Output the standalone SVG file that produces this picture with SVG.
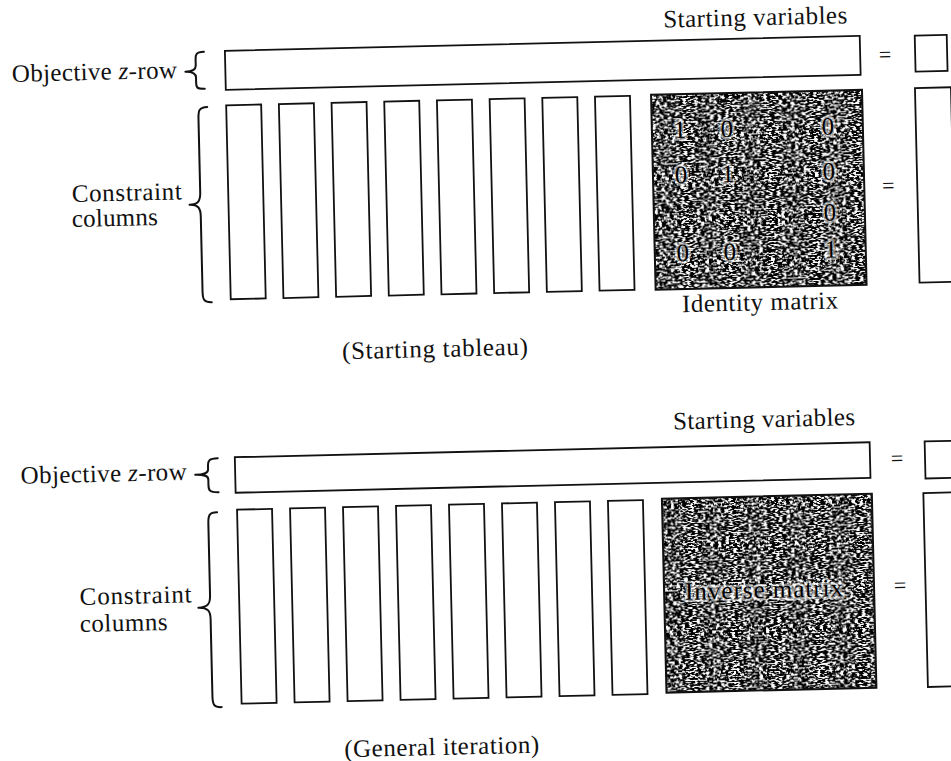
<svg xmlns="http://www.w3.org/2000/svg" width="951" height="761" viewBox="0 0 951 761">
<style>
.box{fill:#fff;stroke:#111;stroke-width:1.8}
.frame{fill:none;stroke:#111;stroke-width:2}
.br{fill:none;stroke:#111;stroke-width:2;stroke-linecap:round;stroke-linejoin:round}
.t{font-family:"Liberation Serif","Times New Roman",serif;fill:#111;font-size:25px}
.eq{font-family:"Liberation Serif","Times New Roman",serif;fill:#111;font-size:22px;text-anchor:middle}
.d{font-family:"Liberation Serif","Times New Roman",serif;fill:#000;font-size:25px;text-anchor:middle;stroke:#fff;stroke-width:5;stroke-opacity:0.55;paint-order:stroke;stroke-linejoin:round}
.m{text-anchor:middle}
</style>
<defs>
<filter id="grain" x="0" y="0" width="1" height="1" color-interpolation-filters="sRGB">
<feTurbulence type="fractalNoise" baseFrequency="0.26 0.6" numOctaves="2" seed="4" result="t"/>
<feColorMatrix in="t" type="matrix" values="1 0 0 0 0  1 0 0 0 0  1 0 0 0 0  0 0 0 0 1" result="g"/>
<feComponentTransfer in="g" result="b">
<feFuncR type="linear" slope="9" intercept="-4.3"/>
<feFuncG type="linear" slope="9" intercept="-4.3"/>
<feFuncB type="linear" slope="9" intercept="-4.3"/>
</feComponentTransfer>
<feComposite in="b" in2="SourceGraphic" operator="in"/>
</filter>
<rect id="col" width="35" height="194" class="box"/>
</defs>
<rect width="951" height="761" fill="#fff"/>

<g id="top" transform="rotate(-1.35 475 180)">
  <g id="top-header"><text class="t m" x="759" y="32" textLength="184">Starting variables</text></g>
  <g id="top-zrow-label"><text class="t" x="14.5" y="71" textLength="165">Objective <tspan font-style="italic">z</tspan>-row</text></g>
  <g id="top-zrow"><rect class="box" x="228" y="45" width="635" height="39"/></g>
  <g id="top-zrow-eq"><text class="eq" x="888" y="71.5">=</text></g>
  <g id="top-zrow-rhs"><rect class="box" x="918" y="46" width="32" height="36"/></g>
  <g id="top-constraint-label">
    <text class="t" x="71.5" y="192.5" textLength="110">Constraint</text>
    <text class="t" x="71" y="217.5" textLength="86">columns</text>
  </g>
  <g id="top-columns">
    <use href="#col" x="228" y="99.5"/>
    <use href="#col" x="280.7" y="99.5"/>
    <use href="#col" x="333.4" y="99.5"/>
    <use href="#col" x="386.1" y="99.5"/>
    <use href="#col" x="438.8" y="99.5"/>
    <use href="#col" x="491.5" y="99.5"/>
    <use href="#col" x="544.2" y="99.5"/>
    <use href="#col" x="596.9" y="99.5"/>
  </g>
  <g id="top-identity">
    <rect x="653" y="99" width="211" height="195" fill="#000" filter="url(#grain)"/>
    <rect class="frame" x="653" y="99" width="211" height="195"/>
    <text class="d" x="681" y="143">1</text>
    <text class="d" x="728" y="143">0</text>
    <text class="d" x="829" y="143">0</text>
    <text class="d" x="681" y="188">0</text>
    <text class="d" x="728" y="188">1</text>
    <text class="d" x="829" y="188">0</text>
    <text class="d" x="829" y="229">0</text>
    <text class="d" x="681" y="266">0</text>
    <text class="d" x="728" y="266">0</text>
    <text class="d" x="829" y="266">1</text>
  </g>
  <g id="top-identity-label"><text class="t m" x="757" y="317" textLength="156">Identity matrix</text></g>
  <g id="top-eq"><text class="eq" x="888" y="202.5">=</text></g>
  <g id="top-rhs"><rect class="box" x="917" y="98.5" width="36" height="194.5"/></g>
  <g id="top-caption"><text class="t m" x="431" y="356" textLength="186">(Starting tableau)</text></g>
</g>

<g id="bottom" transform="rotate(-1.35 480 590)">
  <g id="bot-header"><text class="t m" x="768" y="434" textLength="182">Starting variables</text></g>
  <g id="bot-zrow-label"><text class="t" x="23.5" y="473" textLength="166">Objective <tspan font-style="italic">z</tspan>-row</text></g>
  <g id="bot-zrow"><rect class="box" x="238" y="451.5" width="635" height="35.5"/></g>
  <g id="bot-zrow-eq"><text class="eq" x="900" y="475.5">=</text></g>
  <g id="bot-zrow-rhs"><rect class="box" x="928" y="452" width="35" height="37"/></g>
  <g id="bot-constraint-label">
    <text class="t" x="79.6" y="595.6" textLength="112">Constraint</text>
    <text class="t" x="79" y="622.6" textLength="88">columns</text>
  </g>
  <g id="bot-columns">
    <use href="#col" x="239" y="504"/>
    <use href="#col" x="292" y="504"/>
    <use href="#col" x="345" y="504"/>
    <use href="#col" x="398" y="504"/>
    <use href="#col" x="451" y="504"/>
    <use href="#col" x="504" y="504"/>
    <use href="#col" x="557" y="504"/>
    <use href="#col" x="610" y="504"/>
  </g>
  <g id="bot-inverse">
    <rect x="664" y="503" width="210" height="194" fill="#000" filter="url(#grain)"/>
    <rect class="frame" x="664" y="503" width="210" height="194"/>
    <text class="d" x="764" y="604.7" textLength="158">Inverse matrix</text>
  </g>
  <g id="bot-eq"><text class="eq" x="900" y="602.5">=</text></g>
  <g id="bot-rhs"><rect class="box" x="925.5" y="503.5" width="37" height="194"/></g>
  <g id="bot-caption"><text class="t m" x="438" y="754" textLength="195">(General iteration)</text></g>
</g>

<g id="braces">
  <g transform="rotate(-1.35 475 180)">
    <path class="br" d="M207 45.5 C199 45.5 198.5 48 198.5 53 L198.5 59 C198.5 63 196 65 188 65 C196 65 198.5 67 198.5 71 L198.5 76 C198.5 81 199 82.5 207 82.5"/>
    <path class="br" d="M209 100.7 C201 100.7 200 104 200 112 L200 186 C200 194 198 198 189 198 C198 198 200 202 200 210 L200 285 C200 293 201 296 209 296"/>
  </g>
  <g transform="rotate(-1.35 480 590)">
    <path class="br" d="M221 452 C212 452 211 454.5 211 459 L211 463 C211 466.5 208 468 198 468 C208 468 211 469.5 211 473 L211 479 C211 484 212 486 221 486"/>
    <path class="br" d="M219 506 C211 506 210 509 210 517 L210 589 C210 597 208 601 198 601 C208 601 210 605 210 613 L210 690 C210 698 211 701 219 701"/>
  </g>
</g>
</svg>
